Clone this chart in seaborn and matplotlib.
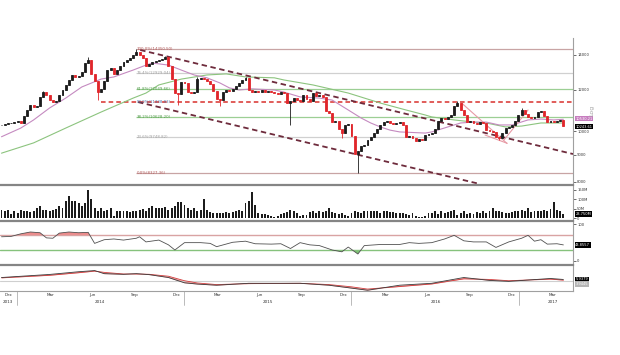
import numpy as np
import pandas as pd
import matplotlib
matplotlib.use("Agg")
import matplotlib.pyplot as plt
import matplotlib.dates as mdates
import matplotlib.transforms as mtransforms
from matplotlib.ticker import FixedLocator, NullLocator
import seaborn as sns

# ---------------- data (weekly) ----------------
start_week = "2013-11-29"
first_open = 10250
closes = [
    10280, 10300, 10340, 10360, 10420, 10430, 10380, 10700, 10980, 11200,
    11100, 11150, 11600, 11870, 11700, 11480, 11370, 11420, 11700, 12000,
    12250, 12500, 12800, 12700, 12760, 12970, 13500, 13650, 12850, 12450,
    11850, 12050, 12450, 13100, 13200, 12850, 13100, 13300, 13550, 13650,
    13800, 13950, 14150, 14000, 13800, 13300, 13450, 13550, 13600, 13650,
    13750, 13850, 13300, 12600, 11800, 11750, 12400, 12350, 11850, 11800,
    11900, 12550, 12650, 12600, 12450, 12300, 11950, 11500, 11480, 11850,
    12000, 11950, 12010, 12200, 12350, 12500, 12640, 12000, 11850, 11950,
    11880, 11960, 11900, 11950, 11870, 11830, 11780, 11850, 11800, 11300,
    11400, 11550, 11480, 11420, 11700, 11500, 11400, 11800, 11650, 11720,
    11600, 10900, 10820, 10400, 10450, 10100, 9900, 10250, 10330, 9780,
    9050, 9150, 9350, 9400, 9600, 9750, 9910, 10100, 10250, 10400,
    10450, 10380, 10300, 10360, 10400, 10250, 9750, 9800, 9700, 9550,
    9650, 9600, 9820, 9870, 9930, 10100, 10450, 10590, 10560, 10620,
    10750, 11150, 11310, 10970, 10730, 10400, 10450, 10380, 10330, 10400,
    10350, 10050, 9980, 9950, 9740, 9700, 9900, 10130, 10200, 10270,
    10450, 10730, 10970, 10800, 10650, 10590, 10640, 10880, 10920, 10700,
    10400, 10450, 10400, 10460, 10500, 10243.61,
]
wick_high = {13: 11950, 27: 13860, 42: 14350.50, 51: 13920, 61: 12700,
             76: 12700, 142: 11400, 162: 11050}
wick_low = {30: 11460, 55: 11200, 68: 11150, 90: 10270, 106: 9700,
            111: 8327.36, 155: 9600}

volumes_m = [
    47, 42, 45, 23, 42, 27, 45, 42, 38, 34,
    42, 57, 68, 47, 45, 42, 45, 50, 66, 57,
    91, 118, 91, 91, 80, 66, 80, 150, 104, 57,
    42, 53, 42, 47, 53, 15, 42, 42, 42, 38,
    34, 38, 42, 45, 50, 42, 57, 66, 53, 53,
    57, 62, 47, 57, 66, 85, 85, 72, 53, 47,
    57, 38, 47, 104, 47, 34, 30, 30, 28, 30,
    32, 30, 34, 40, 47, 42, 80, 91, 137, 72,
    28, 23, 23, 19, 15, 10, 15, 23, 27, 34,
    47, 42, 28, 15, 19, 19, 34, 38, 28, 42,
    34, 38, 57, 34, 28, 23, 28, 19, 15, 28,
    38, 34, 27, 38, 42, 38, 42, 38, 30, 42,
    38, 34, 34, 30, 30, 28, 23, 19, 27, 15,
    10, 10, 15, 27, 28, 38, 23, 42, 27, 34,
    38, 45, 19, 28, 38, 23, 28, 23, 34, 28,
    38, 30, 38, 57, 38, 38, 34, 30, 28, 34,
    42, 38, 45, 38, 53, 34, 38, 42, 38, 45,
    42, 50, 85, 47, 40, 23.75,
]

ma_pink_weeks = [0, 6, 10, 15, 20, 25, 31, 35, 41, 45, 47, 52, 56, 60, 64, 68, 71, 74,
                 78, 85, 88, 93, 99, 103, 108, 112, 115, 118, 121, 124, 132, 134, 139,
                 143, 147, 151, 155, 159, 164, 168, 172, 175]
ma_pink_vals = [9750, 10130, 10500, 11070, 11560, 12140, 12570, 12690, 13080, 13370,
                13490, 13370, 13080, 12800, 12640, 12360, 12090, 11980, 12040, 11980,
                11870, 11620, 11560, 11460, 10970, 10590, 10360, 10180, 10040, 9960,
                9910, 9960, 10180, 10360, 10400, 10400, 10270, 10270, 10500, 10540,
                10500, 10530]
ma_green_weeks = [0, 10, 20, 31, 41, 45, 49, 56, 64, 70, 76, 85, 88, 97, 108, 118,
                  126, 132, 134, 141, 147, 151, 157, 162, 168, 175]
ma_green_vals = [9070, 9490, 10130, 10870, 11560, 11820, 12250, 12570, 12800, 12860,
                 12690, 12640, 12520, 12250, 11820, 11310, 10970, 10730, 10640, 10500,
                 10400, 10360, 10180, 10220, 10360, 10360]

rsi_weeks = [0, 3, 6, 9, 12, 14, 16, 18, 21, 24, 27, 29, 32, 35, 38, 42, 43, 45, 49,
             52, 54, 57, 62, 65, 67, 72, 76, 79, 84, 87, 90, 93, 96, 99, 103, 106,
             108, 111, 113, 118, 124, 127, 130, 134, 138, 141, 144, 147, 151, 154,
             158, 162, 164, 166, 168, 170, 173, 175]
rsi_vals = [66, 67, 74, 79, 77, 63, 62, 76, 79, 77, 78, 48, 58, 60, 57, 62, 66, 52, 57,
            44, 30, 50, 50, 48, 39, 51, 54, 47, 46, 47, 34, 50, 44, 42, 30, 25,
            38, 19, 42, 45, 45, 50, 48, 50, 60, 70, 55, 52, 52, 37,
            52, 62, 70, 54, 58, 46, 47, 43.8557]

macd_weeks = [0, 15, 24, 29, 32, 38, 42, 46, 52, 57, 61, 67, 77, 93, 102, 109, 114,
              124, 134, 144, 152, 158, 171, 175]
macd_vals = [12, 21.6, 30, 33.6, 24, 22, 24, 21, 12, -4.5, -8.4, -12, -6, -6, -12,
             -21, -27.6, -12, -6, 12, 3, 0, 9, 5.9379]
signal_vals = [11, 19, 27, 32, 28, 23, 23, 22, 16, 2, -5, -10, -7, -6, -10, -17, -24,
               -16, -8, 8, 6, 2, 7, 3.9445]

fib_levels = [14350.50, 12929.04, 12049.66, 11338.93, 10628.20, 9748.82, 8327.36]
fib_labels = ["100.0%(14350.50)", "76.4%(12929.04)", "61.8%(12049.66)",
              "50.0%(11338.93)", "38.2%(10628.20)", "23.6%(9748.82)", "0.0%(8327.36)"]
fib_colors = ["#c8a4a4", "#d0d0d0", "#9ccf94", "#d9302c", "#9ccf94", "#d0d0d0", "#c8a4a4"]
fib_text_colors = ["#b25a5a", "#a0a0a0", "#4f9a47", "#4a6fa5", "#4f9a47", "#a0a0a0", "#b25a5a"]

channel_upper_weeks = [43.2, 178.0]
channel_upper_prices = [14290, 9036]
channel_lower_weeks = [42.5, 149.0]
channel_lower_prices = [11360, 7918]
wedge_lines = [([143.4, 157.4], [11298, 9473]),
               ([150.6, 157.5], [9825, 9473]),
               ([156.5, 164.0], [9611, 10969])]

price_ticks = [8000, 9000, 10000, 12000, 14000]
vol_ticks = [0, 50, 100, 150]
vol_tick_labels = ["0", "50M", "100M", "150M"]
month_tick_dates = ["2013-12-15", "2014-03-15", "2014-06-15", "2014-09-15", "2014-12-15",
                    "2015-03-15", "2015-06-15", "2015-09-15", "2015-12-15", "2016-03-15",
                    "2016-06-15", "2016-09-15", "2016-12-15", "2017-03-15"]
month_tick_labels = ["Dec", "Mar", "Jun", "Sep", "Dec", "Mar", "Jun", "Sep", "Dec",
                     "Mar", "Jun", "Sep", "Dec", "Mar"]
year_label_dates = ["2013-12-12", "2014-07-02", "2015-07-02", "2016-07-02", "2017-03-15"]
year_labels = ["2013", "2014", "2015", "2016", "2017"]
year_sep_dates = ["2014-01-01", "2015-01-01", "2016-01-01", "2017-01-01"]

# ---------------- figure ----------------
sns.set_theme(style="white")
plt.rcParams["font.family"] = ["DejaVu Sans"]

n = len(closes)
assert len(volumes_m) == n
base = mdates.date2num(pd.Timestamp(start_week))
wx = base + 7 * np.arange(n)
def w2x(w):
    return base + 7 * np.asarray(w, dtype=float)

opens = [first_open] + closes[:-1]
highs = [max(o, c, wick_high.get(i, 0)) for i, (o, c) in enumerate(zip(opens, closes))]
lows = [min(o, c, wick_low.get(i, 1e9)) for i, (o, c) in enumerate(zip(opens, closes))]
up = np.array(closes) >= np.array(opens)
ccol = np.where(up, "#1c1c1c", "#e0262b")

W, H = 620, 355
fig = plt.figure(figsize=(6.2, 3.55), dpi=100)
right = 573 / W
def box(top, bot):
    return [0, 1 - bot / H, right, (bot - top) / H]

ax_p = fig.add_axes(box(38, 184))
ax_v = fig.add_axes(box(185, 220), sharex=ax_p)
ax_r = fig.add_axes(box(221, 264), sharex=ax_p)
ax_m = fig.add_axes(box(265, 291), sharex=ax_p)

x_left = base - 3.27
x_right = base + 1246.0
ax_p.set_xlim(x_left, x_right)

sep_col = "#858585"
for ax in (ax_p, ax_v, ax_r, ax_m):
    ax.set_facecolor("white")
    ax.spines["left"].set_visible(False)
    ax.spines["right"].set_color("#a0a0a0")
    ax.spines["right"].set_linewidth(0.8)
    ax.spines["bottom"].set_visible(False)
    ax.spines["top"].set_color(sep_col)
    ax.spines["top"].set_linewidth(1.6)
    ax.yaxis.tick_right()
    ax.tick_params(axis="y", which="both", labelsize=2.7, length=2, width=0.5,
                   pad=1, colors="#333333", direction="out")
    ax.tick_params(axis="x", which="both", labelbottom=False, length=0)
ax_p.spines["top"].set_visible(False)
ax_m.spines["bottom"].set_visible(True)
ax_m.spines["bottom"].set_color("#a0a0a0")
ax_m.spines["bottom"].set_linewidth(0.8)

# ---- price panel ----
ax_p.set_yscale("log")
ax_p.set_ylim(7918, 15064)
ax_p.yaxis.set_major_locator(FixedLocator(price_ticks))
ax_p.yaxis.set_minor_locator(NullLocator())
ax_p.set_yticklabels([str(t) for t in price_ticks])

fib_start = w2x(42)
for lvl, lab, lc, tc in zip(fib_levels, fib_labels, fib_colors, fib_text_colors):
    if lab.startswith("50.0"):
        ax_p.hlines(lvl, w2x(31), x_right, colors=lc, linewidth=1.1,
                    linestyles=(0, (3, 2)), zorder=2)
    else:
        ax_p.hlines(lvl, fib_start, x_right, colors=lc, linewidth=0.9, zorder=1)
    ax_p.text(fib_start, lvl, lab, fontsize=2.8, color=tc, va="center", ha="left", zorder=6)

sns.lineplot(x=w2x(ma_green_weeks), y=ma_green_vals, ax=ax_p, color="#8cc47e",
             linewidth=0.8, estimator=None, sort=False, legend=False, zorder=3)
sns.lineplot(x=w2x(ma_pink_weeks), y=ma_pink_vals, ax=ax_p, color="#c58ac0",
             linewidth=0.8, estimator=None, sort=False, legend=False, zorder=3)

ax_p.plot(w2x(channel_upper_weeks), channel_upper_prices, color="#6e2b3c",
          linewidth=1.3, linestyle=(0, (3, 2)), zorder=4)
ax_p.plot(w2x(channel_lower_weeks), channel_lower_prices, color="#6e2b3c",
          linewidth=1.3, linestyle=(0, (3, 2)), zorder=4)
for wk, pr in wedge_lines:
    ax_p.plot(w2x(wk), pr, color="#e79aa5", linewidth=0.8, zorder=4)

ax_p.vlines(wx, lows, highs, colors=ccol, linewidth=0.6, zorder=5)
ax_p.bar(wx, np.array(closes) - np.array(opens), bottom=opens, width=4.2,
         color=ccol, edgecolor=ccol, linewidth=0.6, zorder=5)

# ---- volume panel ----
ax_v.set_ylim(-7.9, 176)
ax_v.bar(wx, volumes_m, width=4.2, color="#1c1c1c", linewidth=0)
ax_v.yaxis.set_major_locator(FixedLocator(vol_ticks))
ax_v.set_yticklabels(vol_tick_labels)

# ---- RSI panel ----
ax_r.set_ylim(-8.2, 109)
rx = w2x(rsi_weeks)
rv = np.array(rsi_vals, dtype=float)
ax_r.axhline(70, color="#d9a3a3", linewidth=1.0)
ax_r.axhline(30, color="#86c27c", linewidth=1.0)
ax_r.fill_between(rx, rv, 70, where=rv > 70, interpolate=True, color="#ee8b8b", linewidth=0)
ax_r.fill_between(rx, rv, 30, where=rv < 30, interpolate=True, color="#7cc273", linewidth=0)
sns.lineplot(x=rx, y=rv, ax=ax_r, color="#505050", linewidth=0.6,
             estimator=None, sort=False, legend=False)
ax_r.yaxis.set_major_locator(FixedLocator([0, 100]))
ax_r.set_yticklabels(["0", "100"])

# ---- MACD panel ----
ax_m.set_ylim(-30, 51)
mx = w2x(macd_weeks)
ax_m.axhline(0, color="#cfcfcf", linewidth=0.8)
ax_m.fill_between(mx, macd_vals, signal_vals, color="#f2a3a3", linewidth=0)
sns.lineplot(x=mx, y=signal_vals, ax=ax_m, color="#d23a3a", linewidth=0.6,
             estimator=None, sort=False, legend=False)
sns.lineplot(x=mx, y=macd_vals, ax=ax_m, color="#3a3a3a", linewidth=0.6,
             estimator=None, sort=False, legend=False)
ax_m.yaxis.set_major_locator(NullLocator())

# ---- x axis ----
ax_m.set_xticks([mdates.date2num(pd.Timestamp(d)) for d in month_tick_dates])
ax_m.set_xticklabels(month_tick_labels)
ax_m.xaxis.set_minor_locator(mdates.MonthLocator())
ax_m.tick_params(axis="x", which="major", labelbottom=True, labelsize=3.0,
                 length=0, pad=1.2, colors="#333333")
ax_m.tick_params(axis="x", which="minor", length=1.5, width=0.4, color="#999999")
trans = mtransforms.blended_transform_factory(ax_m.transData, ax_m.transAxes)
for d, lab in zip(year_label_dates, year_labels):
    ax_m.text(mdates.date2num(pd.Timestamp(d)), -0.42, lab, transform=trans,
              fontsize=3.0, ha="center", va="center", color="#333333")
for d in year_sep_dates:
    xd = mdates.date2num(pd.Timestamp(d))
    ax_m.plot([xd, xd], [0, -0.55], transform=trans, color="#a0a0a0",
              linewidth=0.5, clip_on=False)

# ---- right-side value boxes ----
def value_box(ax, y, txt, fc="black", tc="white"):
    t = mtransforms.blended_transform_factory(ax.transAxes, ax.transData)
    ax.text(1.004, y, txt, transform=t, fontsize=2.6, color=tc, va="center", ha="left",
            bbox=dict(boxstyle="square,pad=0.2", fc=fc, ec="none"), zorder=10)

value_box(ax_p, 10560, "10530.21", fc="#c77dbf")
value_box(ax_p, 10200, "10243.61")
value_box(ax_v, 23.75, "23.750M")
value_box(ax_r, 43.8557, "43.8557")
value_box(ax_m, 5.9379, "5.9379")
value_box(ax_m, -7.5, "3.9445", fc="#b5b5b5", tc="white")

fig.text(592 / W, 1 - 110 / H, "Log", rotation=90, fontsize=4.5, color="#a8a8a8",
         ha="center", va="center")

fig.savefig("out.png", dpi=100, facecolor="white")
